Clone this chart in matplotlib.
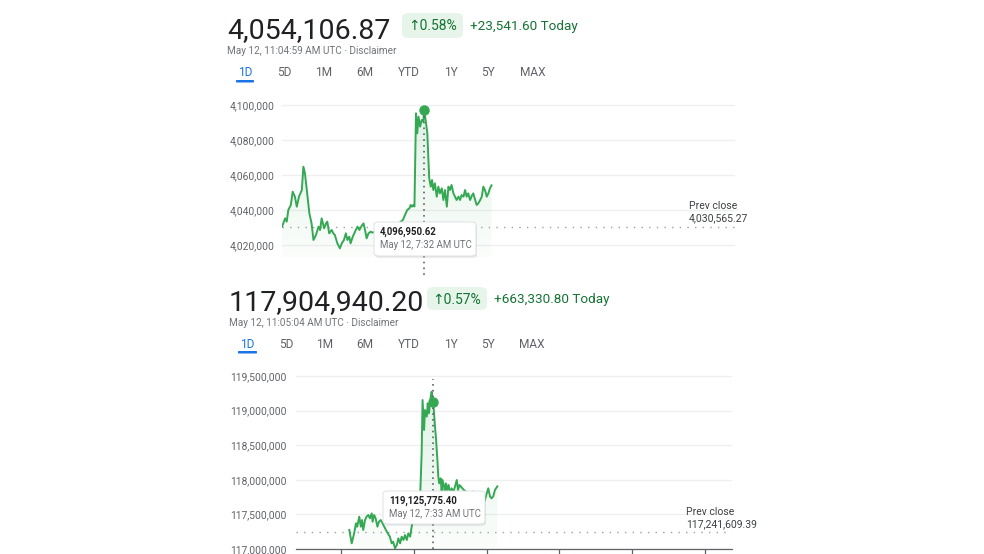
import numpy as np
import matplotlib
matplotlib.use("Agg")
import matplotlib.pyplot as plt
from matplotlib.patches import FancyBboxPatch, Polygon
from matplotlib.colors import to_rgb

plt.rcParams['font.family'] = ['Roboto', 'DejaVu Sans']

W, H = 984, 554

# ---- data (minutes since 00:00 UTC, index value) ----
top_minutes = [0, 10, 15, 20, 28, 34, 41, 47, 54, 63,
               68, 73, 80, 87, 94, 100, 108, 116, 121, 126,
               134, 140, 144, 150, 158, 163, 168, 176, 184, 190,
               197, 203, 208, 214, 218, 225, 232, 240, 246, 253,
               259, 264, 269, 275, 282, 288, 300, 320, 340, 360,
               384, 391, 398, 405, 409, 413, 417, 421, 424, 426,
               430, 434, 439, 444, 449, 452, 458, 462, 465, 468,
               473, 477, 481, 486, 492, 497, 502, 508, 513, 518,
               524, 529, 534, 539, 545, 550, 555, 561, 566, 571,
               577, 582, 587, 592, 598, 603, 608, 614, 619, 624,
               630, 635, 640, 645, 651, 656, 661, 666]
top_values = [4030470, 4035240, 4033330, 4040000, 4042860, 4050480, 4047620, 4041900, 4047620, 4051430,
              4064760, 4060950, 4049520, 4038090, 4032380, 4022860, 4025710, 4030470, 4028570, 4035240,
              4029520, 4032380, 4033330, 4026670, 4028570, 4026670, 4025710, 4020950, 4018090, 4020950,
              4022860, 4026670, 4022860, 4024760, 4020950, 4024760, 4027620, 4030470, 4028570, 4030860,
              4032380, 4028570, 4023810, 4026670, 4027620, 4027050, 4028000, 4030000, 4031000, 4030500,
              4034280, 4037140, 4040000, 4040950, 4042860, 4041900, 4042860, 4042000, 4074290, 4095240,
              4083810, 4093330, 4087620, 4091430, 4090480, 4096950.62, 4089520, 4083810, 4070480, 4058090,
              4053330, 4057140, 4051430, 4055240, 4047620, 4053330, 4049520, 4052380, 4045710, 4051430,
              4041900, 4053330, 4051430, 4054280, 4049520, 4047620, 4045710, 4047620, 4045710, 4048570,
              4047620, 4051430, 4047620, 4049520, 4045710, 4048000, 4049520, 4045710, 4042860, 4043810,
              4045710, 4047620, 4053330, 4051430, 4047620, 4049520, 4052380, 4054106.87]
top_yticks = [4020000, 4040000, 4060000, 4080000, 4100000]
top_prev_close = 4030565.27
top_marker_minute = 452
top_marker_value = 4096950.62
top_marker_label = "May 12, 7:32 AM UTC"
top_price = 4054106.87
top_pct = 0.58
top_change = 23541.60
top_stamp = "May 12, 11:04:59 AM UTC · Disclaimer"

bot_minutes = [176, 184, 192, 198, 202, 209, 214, 218, 222, 228,
               233, 239, 244, 250, 253, 258, 263, 269, 274, 280,
               283, 300, 310, 316, 321, 327, 333, 338, 344, 349,
               355, 360, 366, 371, 377, 382, 388, 401, 410, 415,
               418, 423, 426, 432, 435, 439, 445, 448, 453, 456,
               459, 462, 467, 470, 473, 478, 481, 484, 489, 492,
               495, 500, 504, 509, 514, 520, 525, 531, 535, 540,
               555, 570, 585, 600, 613, 619, 624, 630, 635, 641,
               646, 652, 657, 665]
bot_values = [117274550, 117081870, 117226380, 117370890, 117322720, 117467230, 117322720, 117419060, 117274550, 117419060,
              117467230, 117491310, 117443140, 117515400, 117394970, 117491310, 117443140, 117322720, 117394970, 117419060,
              117394970, 117250000, 117178200, 117081870, 117105960, 117009610, 117057780, 117154120, 117081870, 117178200,
              117130040, 117202290, 117130040, 117226380, 117178200, 117322720, 117467230, 117660000, 117756250, 118382460,
              119153180, 118719650, 119008670, 118912330, 119105000, 118960500, 119201350, 119273600, 119125775.40, 118960500,
              118767820, 118623300, 118286110, 118045260, 117948920, 118021180, 117828500, 117997100, 117900760, 117780330,
              117948920, 117852590, 117924840, 117804420, 117876670, 117828500, 117900760, 117997100, 117852590, 117924840,
              117850000, 117800000, 117830000, 117650000, 117611700, 117660000, 117708000, 117804000, 117877000, 117756000,
              117732000, 117766000, 117853000, 117904940.20]
bot_yticks = [117000000, 117500000, 118000000, 118500000, 119000000, 119500000]
bot_xticks = [150, 390, 630, 870, 1110, 1350]
bot_prev_close = 117241609.39
bot_marker_minute = 453
bot_marker_value = 119125775.40
bot_marker_label = "May 12, 7:33 AM UTC"
bot_price = 117904940.20
bot_pct = 0.57
bot_change = 663330.80
bot_stamp = "May 12, 11:05:04 AM UTC · Disclaimer"

tabs = ['1D', '5D', '1M', '6M', 'YTD', '1Y', '5Y', 'MAX']

assert len(top_minutes) == len(top_values)
assert len(bot_minutes) == len(bot_values)

GREEN = '#34a853'
DARK = '#202124'
GRAY = '#70757a'


def fx(x):
    return x / W


def fy(y):
    return 1 - y / H


fig = plt.figure(figsize=(W / 100, H / 100), dpi=100)
fig.patch.set_facecolor('white')


def header(x0, y_base, price, pct, change, stamp, badge, tab_y, tab_xs, ul):
    fig.text(fx(x0), fy(y_base), f'{price:,.2f}', fontsize=20.5, color=DARK, va='baseline')
    bx0, by0, bx1, by1 = badge
    fig.add_artist(FancyBboxPatch((fx(bx0), fy(by1)), fx(bx1 - bx0), (by1 - by0) / H,
                                  boxstyle='round,pad=0,rounding_size=0.008',
                                  transform=fig.transFigure, fc='#e6f4ea', ec='none'))
    cy = (by0 + by1) / 2 + 1
    fig.text(fx((bx0 + bx1) / 2), fy(cy), f'↑{pct:.2f}%', fontsize=10, color='#137333',
             ha='center', va='center', family=['Roboto', 'DejaVu Sans'])
    fig.text(fx(bx1 + 7), fy(cy), f'+{change:,.2f} Today', fontsize=9.7, color='#137333', va='center')
    fig.text(fx(x0), fy(y_base + 13), stamp, fontsize=7.2, color=GRAY, va='center')
    for i, (t, x) in enumerate(zip(tabs, tab_xs)):
        fig.text(fx(x), fy(tab_y), t, fontsize=8.6, ha='center', va='center',
                 color='#1a73e8' if i == 0 else '#5f6368')
    fig.add_artist(FancyBboxPatch((fx(ul[0]), fy(tab_y + 9.5)), fx(ul[1] - ul[0]), 2.5 / H,
                                  boxstyle='round,pad=0,rounding_size=0.001',
                                  transform=fig.transFigure, fc='#1a73e8', ec='none'))


def gradient_fill(ax, x, y, base):
    verts = [(x[0], base)] + list(zip(x, y)) + [(x[-1], base)]
    poly = Polygon(verts, closed=True, fc='none', ec='none')
    ax.add_patch(poly)
    n = 100
    rgba = np.zeros((n, 1, 4))
    rgba[..., :3] = to_rgb(GREEN)
    rgba[:, 0, 3] = np.linspace(0.15, 0.02, n)
    im = ax.imshow(rgba, aspect='auto', extent=[x[0], x[-1], base, max(y)],
                   origin='upper', zorder=1, interpolation='bilinear')
    im.set_clip_path(poly)


def tooltip(box, value, label):
    x0, y0, x1, y1 = box
    fig.add_artist(FancyBboxPatch((fx(x0 + 1), fy(y1 + 2)), fx(x1 - x0), (y1 - y0) / H,
                                  boxstyle='round,pad=0,rounding_size=0.005',
                                  transform=fig.transFigure, fc='#000000', alpha=0.08, ec='none', zorder=5))
    fig.add_artist(FancyBboxPatch((fx(x0), fy(y1)), fx(x1 - x0), (y1 - y0) / H,
                                  boxstyle='round,pad=0,rounding_size=0.005',
                                  transform=fig.transFigure, fc='white', ec='#dadce0', lw=0.6, zorder=6))
    fig.text(fx(x0 + 6), fy(y0 + 10), f'{value:,.2f}', fontsize=6.9, fontweight='bold',
             color=DARK, va='center', zorder=7)
    fig.text(fx(x0 + 6), fy(y0 + 23), label, fontsize=6.9, color=GRAY, va='center', zorder=7)


def style_axes(ax, yticks, pad):
    for s in ax.spines.values():
        s.set_visible(False)
    ax.set_facecolor('none')
    ax.set_yticks(yticks)
    ax.set_yticklabels([f'{v:,}' for v in yticks])
    ax.tick_params(axis='y', length=0, pad=pad, labelsize=7.4, labelcolor='#5f6368')
    ax.yaxis.grid(True, color='#efefef', lw=0.9)
    ax.set_axisbelow(True)


# ---------------- top chart ----------------
header(227, 38, top_price, top_pct, top_change, top_stamp, (402, 13, 463, 38), 73,
       [245, 284, 324, 365, 409, 451, 488, 533], (236, 254))

ax1 = fig.add_axes([fx(282), fy(276), fx(735 - 282), (276 - 95) / H])
style_axes(ax1, top_yticks, 5)
ax1.set_xticks([])
gradient_fill(ax1, top_minutes, top_values, 4013143)
ax1.plot(top_minutes, top_values, color=GREEN, lw=1.4, zorder=3, solid_joinstyle='round')
ax1.axhline(top_prev_close, color='#9aa0a6', lw=1.0, ls=(0, (1, 4.5)), zorder=2)
ax1.plot([top_marker_minute, top_marker_minute], [top_marker_value, 4002286],
         color='#5f6368', lw=1.2, ls=(0, (1, 2.5)), zorder=4)
ax1.plot(top_marker_minute, top_marker_value, 'o', ms=6.5, color=GREEN, zorder=5)
ax1.set_xlim(0, 1440)
ax1.set_ylim(4002286, 4105714)
fig.text(fx(689), fy(206), 'Prev close', fontsize=7.5, color='#3c4043', va='center')
fig.text(fx(689), fy(218), f'{top_prev_close:,.2f}', fontsize=7.5, color='#3c4043', va='center')
tooltip((374, 222, 476, 256), top_marker_value, top_marker_label)

# ---------------- bottom chart ----------------
header(229, 310, bot_price, bot_pct, bot_change, bot_stamp, (427, 287, 487, 310), 344,
       [247, 286, 325, 365, 409, 451, 488, 532], (238, 257))

ax2 = fig.add_axes([fx(296), fy(549), fx(732 - 296), (549 - 366) / H])
style_axes(ax2, bot_yticks, 7)
ax2.spines['bottom'].set_visible(True)
ax2.spines['bottom'].set_color('#5f6368')
ax2.spines['bottom'].set_linewidth(0.9)
ax2.set_xticks(bot_xticks)
ax2.tick_params(axis='x', length=5, width=0.9, color='#5f6368', labelbottom=False)
gradient_fill(ax2, bot_minutes, bot_values, 117000000)
ax2.plot(bot_minutes, bot_values, color=GREEN, lw=1.4, zorder=3, solid_joinstyle='round')
ax2.axhline(bot_prev_close, color='#9aa0a6', lw=1.0, ls=(0, (1, 4.5)), zorder=2)
ax2.axvline(bot_marker_minute, ymin=0, ymax=0.93, color='#5f6368', lw=1.2, ls=(0, (1, 2.5)), zorder=4)
ax2.plot(bot_marker_minute, bot_marker_value, 'o', ms=6.5, color=GREEN, zorder=5)
ax2.set_xlim(0, 1440)
ax2.set_ylim(117000000, 119644510)
fig.text(fx(686), fy(512), 'Prev close', fontsize=7.5, color='#3c4043', va='center')
fig.text(fx(686), fy(524), f'{bot_prev_close:,.2f}', fontsize=7.5, color='#3c4043', va='center')
tooltip((383, 491, 485, 524), bot_marker_value, bot_marker_label)

fig.savefig('out.png', dpi=100)
